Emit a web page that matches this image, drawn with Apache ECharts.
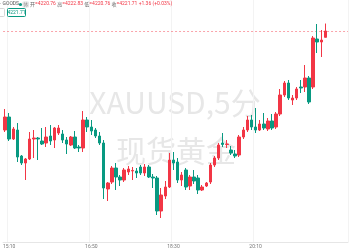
<!DOCTYPE html>
<html>
<head>
<meta charset="utf-8">
<script src="https://cdn.jsdelivr.net/npm/echarts@6/dist/echarts.min.js"></script>
<style>
html,body{margin:0;padding:0;background:#fff;}
#chart{width:350px;height:250px;}
</style>
</head>
<body>
<div id="chart"></div>
<script>
// Time categories (5-minute bars; last five are empty future slots)
const categories = [
'15:05','15:10','15:15','15:20','15:25','15:30','15:35','15:40','15:45','15:50','15:55',
'16:00','16:05','16:10','16:15','16:20','16:25','16:30','16:35','16:40','16:45','16:50','16:55',
'17:00','17:05','17:10','17:15','17:20','17:25','17:30','17:35','17:40','17:45','17:50','17:55',
'18:00','18:05','18:10','18:15','18:20','18:25','18:30','18:35','18:40','18:45','18:50','18:55',
'19:00','19:05','19:10','19:15','19:20','19:25','19:30','19:35','19:40','19:45','19:50','19:55',
'20:00','20:05','20:10','20:15','20:20','20:25','20:30','20:35','20:40','20:45','20:50','20:55',
'21:00','21:05','21:10','21:15','21:20','21:25','21:30','21:35','21:40','21:45','21:50','21:55',
'22:00'
];
const tickLabels = ['15:10','16:50','18:30','20:10'];

// OHLC values: [open, close, low, high]
const ohlc = [
[4206.86,4208.81,4206.56,4210.01],
[4208.81,4205.51,4205.21,4209.41],
[4205.51,4207.01,4205.36,4207.31],
[4206.86,4202.81,4202.06,4207.91],
[4202.96,4201.91,4201.61,4203.11],
[4201.91,4202.51,4199.36,4202.66],
[4202.51,4205.51,4202.36,4206.56],
[4205.51,4205.66,4202.66,4206.86],
[4205.66,4205.51,4202.36,4205.81],
[4205.21,4204.76,4204.61,4207.16],
[4204.91,4205.81,4204.31,4207.31],
[4205.96,4205.21,4204.61,4207.61],
[4205.36,4207.16,4204.16,4207.31],
[4206.41,4207.16,4206.11,4207.61],
[4206.26,4205.36,4204.91,4206.86],
[4205.36,4204.76,4203.26,4205.81],
[4204.61,4205.81,4204.46,4205.96],
[4205.81,4204.16,4204.01,4206.71],
[4204.31,4204.16,4203.56,4204.61],
[4204.16,4208.36,4203.56,4209.71],
[4208.36,4207.31,4206.56,4208.81],
[4207.31,4206.71,4206.11,4208.36],
[4206.86,4205.96,4205.66,4207.16],
[4205.96,4204.91,4204.61,4206.56],
[4204.91,4198.16,4196.51,4205.36],
[4198.01,4198.91,4196.21,4199.06],
[4199.06,4201.16,4198.76,4201.46],
[4201.16,4199.81,4197.86,4201.91],
[4199.81,4199.36,4198.46,4200.11],
[4199.36,4200.86,4199.06,4201.16],
[4200.56,4201.01,4200.11,4201.46],
[4200.71,4200.79,4199.36,4201.31],
[4200.71,4200.41,4199.66,4201.16],
[4201.31,4200.41,4200.11,4201.61],
[4200.41,4201.31,4199.96,4201.76],
[4201.31,4199.81,4199.66,4201.61],
[4199.81,4199.66,4198.16,4200.26],
[4199.66,4194.71,4194.11,4199.96],
[4194.71,4197.11,4193.66,4198.16],
[4196.96,4198.31,4196.51,4199.21],
[4198.31,4202.36,4198.16,4203.41],
[4202.36,4201.91,4200.86,4203.56],
[4202.06,4199.36,4198.91,4202.66],
[4199.36,4200.11,4198.46,4200.56],
[4200.86,4198.31,4197.86,4201.16],
[4198.46,4199.81,4197.86,4200.11],
[4199.81,4199.21,4198.76,4200.86],
[4199.66,4197.86,4197.26,4200.11],
[4197.86,4198.31,4197.71,4198.61],
[4198.46,4198.91,4198.31,4199.06],
[4199.06,4201.61,4198.76,4201.91],
[4201.61,4202.66,4201.31,4202.96],
[4202.66,4204.61,4202.36,4204.91],
[4204.91,4204.69,4204.31,4206.41],
[4204.69,4204.76,4204.16,4205.36],
[4203.86,4203.41,4203.11,4204.46],
[4203.26,4202.96,4202.66,4203.86],
[4203.11,4205.81,4202.81,4206.11],
[4205.81,4206.86,4205.51,4207.31],
[4206.86,4208.36,4206.56,4208.96],
[4208.36,4207.31,4206.86,4209.11],
[4207.31,4206.86,4206.41,4210.16],
[4206.86,4207.76,4206.71,4208.36],
[4207.76,4207.16,4206.86,4209.41],
[4207.01,4208.21,4206.71,4208.66],
[4208.21,4207.16,4206.86,4209.26],
[4207.31,4209.26,4207.01,4209.56],
[4209.26,4212.11,4208.96,4213.01],
[4212.11,4213.91,4211.81,4214.21],
[4213.91,4211.66,4211.36,4214.36],
[4211.36,4211.66,4210.61,4212.11],
[4211.66,4213.01,4211.36,4213.31],
[4213.31,4213.16,4212.41,4214.36],
[4213.31,4214.66,4212.56,4216.61],
[4214.66,4211.06,4210.76,4214.96],
[4213.31,4220.66,4213.01,4220.96],
[4220.51,4220.06,4218.41,4222.76],
[4220.06,4220.35,4217.81,4221.86],
[4220.76,4221.71,4220.76,4222.83]
];

const symbolName = 'GOODS';
const indicatorValue = '4221.71';

const UP = '#f23645';
const DOWN = '#089981';

const last = ohlc[ohlc.length - 1];
const prevClose = ohlc[ohlc.length - 2][1];
const chg = last[1] - prevClose;
const pct = chg / prevClose * 100;
const f2 = v => v.toFixed(2);
const headerText =
  '{l|开}{v|=' + f2(last[0]) + '} {l|高}{v|=' + f2(last[3]) + '} {l|低}{v|=' + f2(last[2]) +
  '} {l|收}{v|=' + f2(last[1]) + ' ' + (chg >= 0 ? '+' : '') + f2(chg) + ' (' + (pct >= 0 ? '+' : '') + f2(pct) + '%)}';

const chart = echarts.init(document.getElementById('chart'), null, {renderer: 'canvas'});
chart.setOption({
  animation: false,
  backgroundColor: '#ffffff',
  grid: {left: -2, right: 2, top: 0, bottom: 8, containLabel: false},
  xAxis: {
    type: 'category',
    data: categories,
    boundaryGap: true,
    axisLine: {show: true, lineStyle: {color: '#e6e6e6', width: 1}},
    axisTick: {show: false},
    axisLabel: {
      show: true,
      interval: (i, v) => tickLabels.indexOf(v) >= 0,
      fontSize: 5,
      color: '#777',
      margin: 2,
      fontFamily: 'Roboto'
    },
    splitLine: {
      show: true,
      interval: (i, v) => tickLabels.indexOf(v) >= 0,
      lineStyle: {color: '#f3f3f3', width: 1}
    }
  },
  yAxis: {
    type: 'value',
    min: 4190.06,
    max: 4226.36,
    show: false,
    splitLine: {show: false}
  },
  graphic: [
    {type: 'text', x: 175, y: 103, z: -10,
     style: {text: 'XAUUSD,5分', fontSize: 30, fill: '#e7e7e7', align: 'center', verticalAlign: 'middle',
             fontFamily: 'Noto Sans CJK SC'}},
    {type: 'text', x: 176, y: 151, z: -10,
     style: {text: '现货黄金', fontSize: 30, fill: '#e7e7e7', align: 'center', verticalAlign: 'middle',
             fontFamily: 'Noto Sans CJK SC'}},
    {type: 'text', x: 0, y: 1.5, z: 10,
     style: {text: '· ' + symbolName, fontSize: 5, fill: '#555', fontFamily: 'Roboto'}},
    {type: 'circle', z: 10, shape: {cx: 20.5, cy: 4.5, r: 1.6}, style: {fill: DOWN}},
    {type: 'rect', z: 10, shape: {x: 22.5, y: 1.5, width: 6.5, height: 6, r: 1}, style: {fill: '#e4e4e4'}},
    {type: 'text', x: 23.5, y: 2.3, z: 11,
     style: {text: '休', fontSize: 4.5, fill: '#999', fontFamily: 'Noto Sans CJK SC'}},
    {type: 'text', x: 30, y: 1.5, z: 10,
     style: {text: headerText, fontSize: 5, fontFamily: 'Roboto',
             rich: {l: {fontSize: 5, fill: '#666', fontFamily: 'Noto Sans CJK SC'},
                    v: {fontSize: 5, fill: UP, fontFamily: 'Roboto'}}}},
    {type: 'rect', z: 10, shape: {x: -3.5, y: 8.5, width: 8, height: 8, r: 1},
     style: {fill: '#fff', stroke: '#d6d6d6', lineWidth: 1}},
    {type: 'rect', z: 10, shape: {x: 7.5, y: 8.5, width: 18, height: 8, r: 1},
     style: {fill: '#fff', stroke: DOWN, lineWidth: 1}},
    {type: 'text', x: 16.5, y: 12.7, z: 11,
     style: {text: indicatorValue, fontSize: 5, fill: DOWN, align: 'center', verticalAlign: 'middle',
             fontFamily: 'Roboto'}}
  ],
  series: [{
    type: 'candlestick',
    data: ohlc,
    barWidth: 3,
    z: 5,
    itemStyle: {
      color: UP,
      color0: DOWN,
      borderColor: UP,
      borderColor0: DOWN,
      borderWidth: 1
    },
    markLine: {
      silent: true,
      symbol: ['none', 'none'],
      label: {show: false},
      lineStyle: {color: 'rgba(242,54,69,0.45)', type: [2, 2], width: 1},
      data: [{yAxis: last[1]}]
    }
  }]
});
</script>
</body>
</html>
